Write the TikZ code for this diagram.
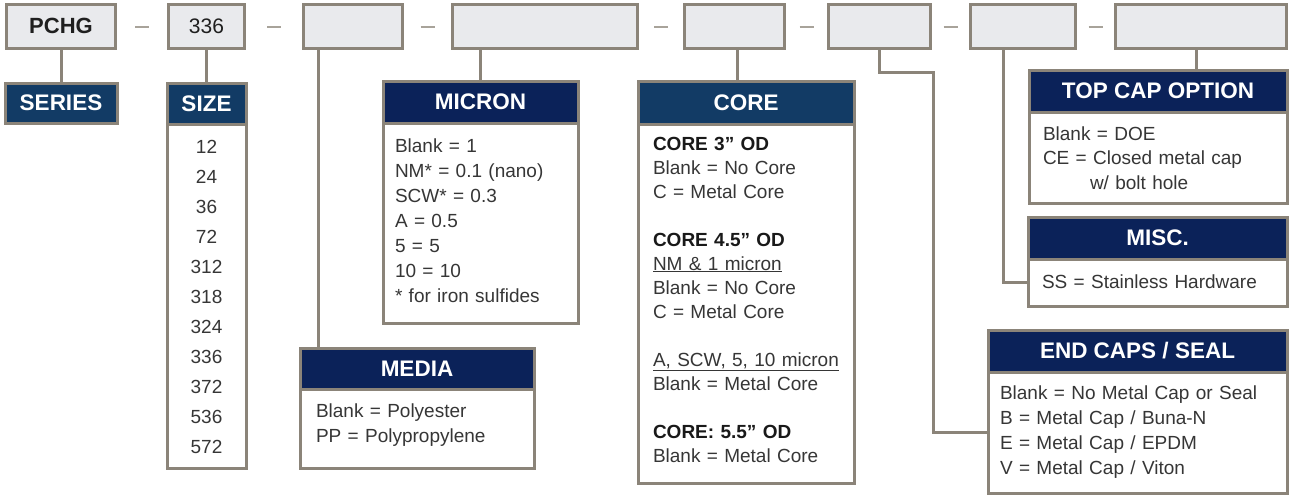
\documentclass[tikz,border=0pt]{standalone}
\usepackage{fontspec}
\setmainfont{Liberation Sans}
\usetikzlibrary{positioning,calc}
\definecolor{rim}{HTML}{8B8479}
\definecolor{slotgray}{HTML}{E9EAED}
\definecolor{hdblue}{HTML}{123B65}
\definecolor{hdnavy}{HTML}{0B2259}
\definecolor{ink}{HTML}{363636}

\begin{document}
\begin{tikzpicture}[
  x=1pt, y=1pt,
  every node/.style={inner sep=0pt, outer sep=0pt},
  slotbox/.style={draw=rim, line width=3pt, fill=slotgray, minimum height=44, text=black!88, font=\fontsize{21}{24}\selectfont},
  hdr/.style={draw=rim, line width=3pt, fill=hdnavy, text=white, anchor=north west, font=\fontsize{22.5}{24}\selectfont\bfseries},
  hdrb/.style={hdr, fill=hdblue},
  cardbody/.style={draw=rim, line width=3pt, fill=white, anchor=north west},
  itemtxt/.style={anchor=base west, align=left, text=ink, text width=280, font=\fontsize{19}{25}\selectfont},
  link/.style={draw=rim, line width=3pt},
  hyph/.style={draw=rim!75, line width=2pt}
]
  \useasboundingbox (0,0) rectangle (1292,-496);

  % code slots along the top
  \node[slotbox, minimum width=109, font=\fontsize{22}{24}\selectfont\bfseries] (pchg) at (61,-26) {PCHG};
  \node[slotbox, minimum width=76] (sz) at (206.5,-26) {336};
  \node[slotbox, minimum width=99] (slotc) at (353,-26) {};
  \node[slotbox, minimum width=185] (slotd) at (545,-26) {};
  \node[slotbox, minimum width=100] (slote) at (734.5,-26) {};
  \node[slotbox, minimum width=102] (slotf) at (879.5,-26) {};
  \node[slotbox, minimum width=105] (slotg) at (1023,-26) {};
  \node[slotbox, minimum width=171] (sloth) at (1201,-26) {};

  \foreach \a/\b in {pchg/sz,sz/slotc,slotc/slotd,slotd/slote,slote/slotf,slotf/slotg,slotg/sloth}
    \draw[hyph] ($(\a.east)!.5!(\b.west)+(-7,-1)$) -- ++(14,0);

  % cards
  \node[hdrb, minimum width=112, minimum height=40] (serieshd) at (5,-83) {SERIES};

  \node[hdrb, minimum width=79, minimum height=41] (sizehd) at (167,-83) {SIZE};
  \node[cardbody, minimum width=79, minimum height=344] (sizebd) at (sizehd.south west) {};
  \foreach \n [count=\i] in {12,24,36,72,312,318,324,336,372,536,572}
    \node[anchor=base, text=ink, font=\fontsize{19}{25}\selectfont] (sz\n) at (206.5,{-153-30*(\i-1)}) {\n};

  \node[hdr, minimum width=195, minimum height=42] (micronhd) at (383,-81) {MICRON};
  \node[cardbody, minimum width=195, minimum height=200] (micronbd) at (micronhd.south west) {};
  \node[itemtxt] (micronlist) at (395,-152) {Blank = 1\\NM* = 0.1 (nano)\\SCW* = 0.3\\A = 0.5\\5 = 5\\10 = 10\\{*} for iron sulfides};

  \node[hdr, minimum width=234, minimum height=41] (mediahd) at (300,-348) {MEDIA};
  \node[cardbody, minimum width=234, minimum height=79] (mediabd) at (mediahd.south west) {};
  \node[itemtxt] (medialist) at (316,-417) {Blank = Polyester\\PP = Polypropylene};

  \node[hdrb, minimum width=216, minimum height=43] (corehd) at (638,-81) {CORE};
  \node[cardbody, minimum width=216, minimum height=359] (corebd) at (corehd.south west) {};
  \node[itemtxt, font=\fontsize{19}{24}\selectfont] (corelist) at (653,-150) {%
    \textbf{\color{black!90}CORE 3” OD}\\
    Blank = No Core\\
    C = Metal Core\\[24pt]
    \textbf{\color{black!90}CORE 4.5” OD}\\
    \underline{NM \& 1 micron}\\
    Blank = No Core\\
    C = Metal Core\\[24pt]
    \underline{A, SCW, 5, 10 micron}\\
    Blank = Metal Core\\[24pt]
    \textbf{\color{black!90}CORE: 5.5” OD}\\
    Blank = Metal Core};

  \node[hdr, minimum width=258, minimum height=42] (tophd) at (1029,-70) {TOP CAP OPTION};
  \node[cardbody, minimum width=258, minimum height=91] (topbd) at (tophd.south west) {};
  \node[itemtxt, font=\fontsize{19}{24.5}\selectfont] (toplist) at (1043,-140) {Blank = DOE\\CE = Closed metal cap\\\hspace*{47pt}w/ bolt hole};

  \node[hdr, minimum width=259, minimum height=42] (mischd) at (1028,-217) {MISC.};
  \node[cardbody, minimum width=259, minimum height=47] (miscbd) at (mischd.south west) {};
  \node[itemtxt] (misclist) at (1042,-288) {SS = Stainless Hardware};

  \node[hdr, minimum width=299, minimum height=42] (endhd) at (988,-330) {END CAPS / SEAL};
  \node[cardbody, minimum width=299, minimum height=121] (endbd) at (endhd.south west) {};
  \node[itemtxt] (endlist) at (1000,-399) {Blank = No Metal Cap or Seal\\B = Metal Cap / Buna-N\\E = Metal Cap / EPDM\\V = Metal Cap / Viton};

  % connectors
  \coordinate (capbend) at (933,-72);
  \draw[link] (pchg.south) -- (serieshd.north);
  \draw[link] (sz.south) -- (sizehd.north);
  \draw[link] ([xshift=15]slotc.south west) -- ([xshift=15]slotc.south west |- mediahd.north);
  \draw[link] (slotd.south -| micronhd.north) -- (micronhd.north);
  \draw[link] ([xshift=3]slote.south) -- ([xshift=3]slote.south |- corehd.north);
  \draw[link] (slotf.south) |- (capbend) |- (endbd.west);
  \draw[link] ([xshift=-20]slotg.south) |- (miscbd.west);
  \draw[link] ([xshift=-5]sloth.south) -- ([xshift=-5]sloth.south |- tophd.north);
\end{tikzpicture}
\end{document}
